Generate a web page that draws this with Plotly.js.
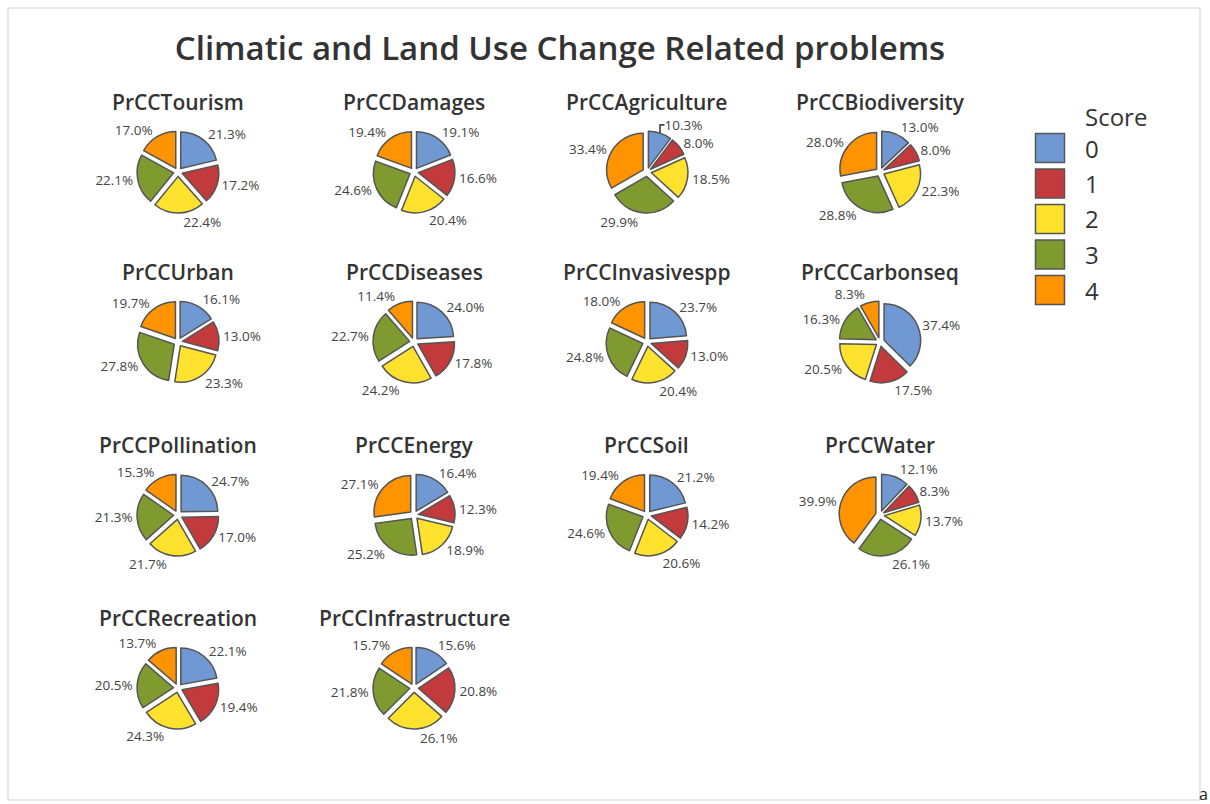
<!DOCTYPE html>
<html>
<head>
<meta charset="utf-8">
<script src="https://cdn.plot.ly/plotly-3.0.1.min.js"></script>
<style>
html,body{margin:0;padding:0;background:#fff;}
#chart{width:1210px;height:804px;}
</style>
</head>
<body>
<div id="chart"></div>
<script>
const scores = ["0", "1", "2", "3", "4"];
const colors = ["#7098D2", "#C23A3B", "#FFE22E", "#7F9B2F", "#FF9300"];
const variables = ["PrCCTourism", "PrCCDamages", "PrCCAgriculture", "PrCCBiodiversity",
  "PrCCUrban", "PrCCDiseases", "PrCCInvasivespp", "PrCCCarbonseq",
  "PrCCPollination", "PrCCEnergy", "PrCCSoil", "PrCCWater",
  "PrCCRecreation", "PrCCInfrastructure"];
const tourism = [21.3, 17.2, 22.4, 22.1, 17.0];
const damages = [19.1, 16.6, 20.4, 24.6, 19.4];
const agriculture = [10.3, 8.0, 18.5, 29.9, 33.4];
const biodiversity = [13.0, 8.0, 22.3, 28.8, 28.0];
const urban = [16.1, 13.0, 23.3, 27.8, 19.7];
const diseases = [24.0, 17.8, 24.2, 22.7, 11.4];
const invasivespp = [23.7, 13.0, 20.4, 24.8, 18.0];
const carbonseq = [37.4, 17.5, 20.5, 16.3, 8.3];
const pollination = [24.7, 17.0, 21.7, 21.3, 15.3];
const energy = [16.4, 12.3, 18.9, 25.2, 27.1];
const soil = [21.2, 14.2, 20.6, 24.6, 19.4];
const water = [12.1, 8.3, 13.7, 26.1, 39.9];
const recreation = [22.1, 19.4, 24.3, 20.5, 13.7];
const infrastructure = [15.6, 20.8, 26.1, 21.8, 15.7];
const allValues = [tourism, damages, agriculture, biodiversity, urban, diseases, invasivespp,
  carbonseq, pollination, energy, soil, water, recreation, infrastructure];

const W = 1210, H = 804;
const colCenters = [178, 414, 647, 880];
const rowCenters = [172, 342, 515, 688];
const halfW = 100, halfH = 41;
const labelFont = "Open Sans, Noto Sans, sans-serif";

const traces = [];
const annotations = [];
const shapes = [];
allValues.forEach((vals, i) => {
  const r = Math.floor(i / 4), c = i % 4;
  const cx = colCenters[c], cy = rowCenters[r];
  traces.push({
    type: "pie",
    values: vals,
    labels: scores,
    sort: false,
    direction: "clockwise",
    rotation: 0,
    pull: 0.12,
    marker: {colors: colors, line: {color: "#555555", width: 1.5}},
    textposition: "outside",
    texttemplate: "%{value:.1f}%",
    textfont: {family: labelFont, size: 13.5, color: "#444444"},
    hoverinfo: "label+value",
    showlegend: false,
    domain: {x: [(cx - halfW) / W, (cx + halfW) / W], y: [(H - cy - halfH) / H, (H - cy + halfH) / H]}
  });
  annotations.push({
    text: variables[i], xref: "paper", yref: "paper",
    x: cx / W, y: (H - cy + 70) / H, xanchor: "center", yanchor: "middle",
    showarrow: false,
    font: {family: labelFont, size: 21, color: "#333333", weight: 600}
  });
});

// Legend (Score key)
const legX = 1050, legY0 = 148, legStep = 35.5, legBox = 29;
annotations.push({
  text: "Score", xref: "paper", yref: "paper", x: 1083 / W, y: (H - 116) / H,
  xanchor: "left", yanchor: "middle", showarrow: false,
  font: {family: labelFont, size: 24, color: "#333333"}
});
scores.forEach((s, k) => {
  const yc = legY0 + k * legStep;
  shapes.push({type: "rect", xref: "paper", yref: "paper",
    x0: (legX - legBox / 2) / W, x1: (legX + legBox / 2) / W,
    y0: (H - yc - legBox / 2) / H, y1: (H - yc + legBox / 2) / H,
    fillcolor: colors[k], line: {color: "#555555", width: 1.5}});
  annotations.push({
    text: s, xref: "paper", yref: "paper", x: 1083 / W, y: (H - yc) / H,
    xanchor: "left", yanchor: "middle", showarrow: false,
    font: {family: labelFont, size: 24, color: "#333333"}
  });
});

annotations.push({
  text: "a", xref: "paper", yref: "paper", x: 1209 / W, y: (H - 794) / H,
  xanchor: "right", yanchor: "middle", showarrow: false, borderpad: 0,
  font: {family: labelFont, size: 16, color: "#222"}
});

shapes.push({type: "rect", xref: "paper", yref: "paper",
  x0: 8 / W, x1: 1200 / W, y0: (H - 800) / H, y1: (H - 8) / H,
  line: {color: "#d0d0d0", width: 1}, fillcolor: "rgba(0,0,0,0)"});

const layout = {
  width: W, height: H,
  margin: {l: 0, r: 0, t: 0, b: 0},
  paper_bgcolor: "#ffffff", plot_bgcolor: "rgba(0,0,0,0)",
  showlegend: false,
  title: {text: "Climatic and Land Use Change Related problems",
    x: 560 / W, xanchor: "center", y: (H - 48) / H, yanchor: "middle",
    font: {family: labelFont, size: 33, color: "#333333", weight: 600}},
  shapes: shapes,
  annotations: annotations
};

Plotly.newPlot("chart", traces, layout, {displayModeBar: false, staticPlot: true});
</script>
</body>
</html>
